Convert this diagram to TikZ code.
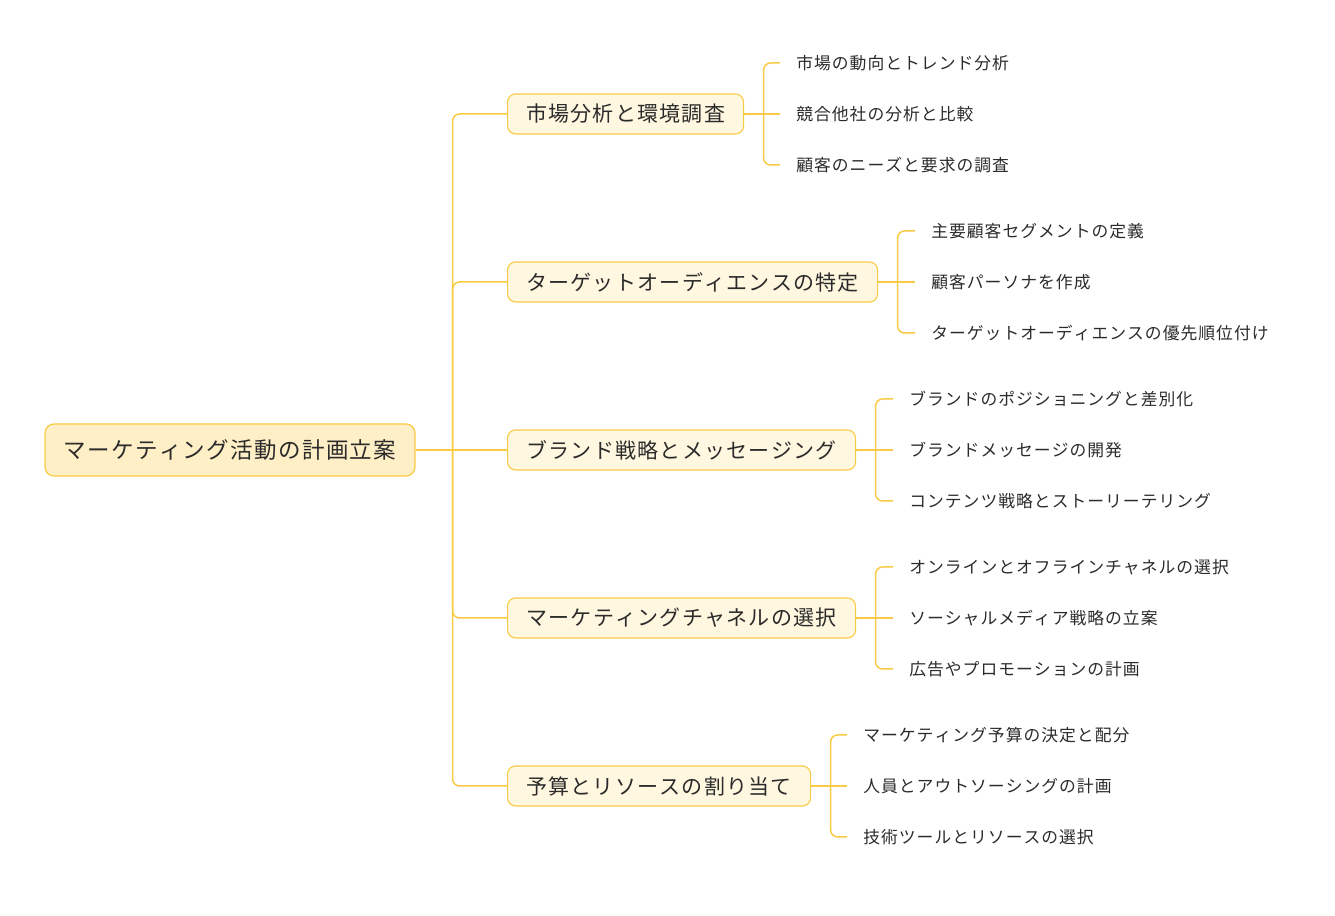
\documentclass[tikz,border=0pt]{standalone}
\usepackage{fontspec}
\setmainfont[Kerning=Off, LetterSpace=6]{Noto Sans CJK JP}
\usepackage{xcolor}
\usepackage{tikz}
\usetikzlibrary{positioning}

\definecolor{linegold}{HTML}{F9CB45}
\definecolor{rootfill}{HTML}{FFEFC6}
\definecolor{topicfill}{HTML}{FFF7E0}
\definecolor{inktext}{HTML}{2B2B2B}

\begin{document}
\begin{tikzpicture}[
    x=1pt, y=1pt,
    rootbox/.style={rectangle, rounded corners=9pt, draw=linegold, line width=1.2pt, fill=rootfill,
                    minimum height=52pt, text=inktext, font=\fontsize{22.5}{26}\selectfont},
    topicbox/.style={rectangle, rounded corners=8pt, draw=linegold, line width=1.1pt, fill=topicfill,
                     minimum height=40pt, anchor=west, text=inktext, font=\fontsize{21}{24}\selectfont},
    leaf/.style={inner xsep=16pt, anchor=west, text=inktext, font=\fontsize{16.8}{20}\selectfont},
    conn/.style={draw=linegold, line width=1.5pt, rounded corners=7pt},
]
\useasboundingbox (0,0) rectangle (1335,915);

% Root
\node[rootbox, minimum width=370pt] (root) at (230,465) {マーケティング活動の計画立案};
\coordinate (trunk) at ([xshift=37pt]root.east);

% Topics
\node[topicbox, minimum width=236pt] (t1) at (507,801) {市場分析と環境調査};
\node[topicbox, minimum width=370pt] (t2) at (507,633) {ターゲットオーディエンスの特定};
\node[topicbox, minimum width=348pt] (t3) at (507,465) {ブランド戦略とメッセージング};
\node[topicbox, minimum width=348pt] (t4) at (507,297) {マーケティングチャネルの選択};
\node[topicbox, minimum width=303pt] (t5) at (507,129) {予算とリソースの割り当て};

% Leaves of t1
\node[leaf] (l11) at ([shift={(36pt,51pt)}]t1.east) {市場の動向とトレンド分析};
\node[leaf] (l12) at ([shift={(36pt,0pt)}]t1.east) {競合他社の分析と比較};
\node[leaf] (l13) at ([shift={(36pt,-51pt)}]t1.east) {顧客のニーズと要求の調査};

% Leaves of t2
\node[leaf] (l21) at ([shift={(37pt,51pt)}]t2.east) {主要顧客セグメントの定義};
\node[leaf] (l22) at ([shift={(37pt,0pt)}]t2.east) {顧客パーソナを作成};
\node[leaf] (l23) at ([shift={(37pt,-51pt)}]t2.east) {ターゲットオーディエンスの優先順位付け};

% Leaves of t3
\node[leaf] (l31) at ([shift={(37pt,51pt)}]t3.east) {ブランドのポジショニングと差別化};
\node[leaf] (l32) at ([shift={(37pt,0pt)}]t3.east) {ブランドメッセージの開発};
\node[leaf] (l33) at ([shift={(37pt,-51pt)}]t3.east) {コンテンツ戦略とストーリーテリング};

% Leaves of t4
\node[leaf] (l41) at ([shift={(37pt,51pt)}]t4.east) {オンラインとオフラインチャネルの選択};
\node[leaf] (l42) at ([shift={(37pt,0pt)}]t4.east) {ソーシャルメディア戦略の立案};
\node[leaf] (l43) at ([shift={(37pt,-51pt)}]t4.east) {広告やプロモーションの計画};

% Leaves of t5
\node[leaf] (l51) at ([shift={(36pt,51pt)}]t5.east) {マーケティング予算の決定と配分};
\node[leaf] (l52) at ([shift={(36pt,0pt)}]t5.east) {人員とアウトソーシングの計画};
\node[leaf] (l53) at ([shift={(36pt,-51pt)}]t5.east) {技術ツールとリソースの選択};

% Root to topics
\draw[conn] (root.east) -- (t3.west);
\draw[conn] (trunk) |- (t1.west);
\draw[conn] (trunk) |- (t2.west);
\draw[conn] (trunk) |- (t4.west);
\draw[conn] (trunk) |- (t5.west);

% Topics to leaves
\foreach \t in {1,...,5}{
  \coordinate (b\t) at ([xshift=19.5pt]t\t.east);
  \draw[conn] (t\t.east) -- (l\t2.west);
  \draw[conn] (b\t) |- (l\t1.west);
  \draw[conn] (b\t) |- (l\t3.west);
}
\end{tikzpicture}
\end{document}
